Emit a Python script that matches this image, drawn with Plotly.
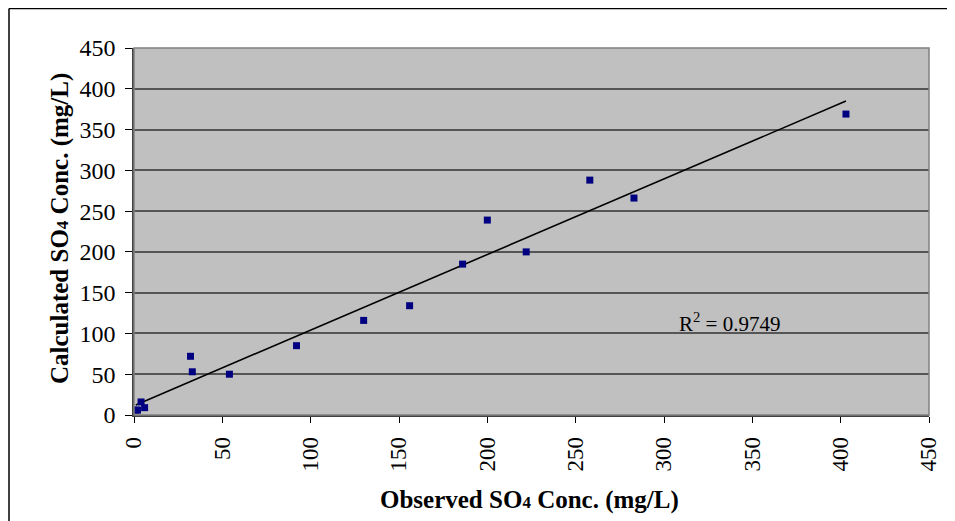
import numpy as np
import plotly.graph_objects as go

observed = [1, 2, 4, 6, 32, 33, 54, 92, 130, 156, 186, 200, 222, 258, 283, 403]
calculated = [6, 6, 16, 9, 72, 53, 50, 85, 116, 134, 185, 239, 200, 288, 266, 369]
x_ticks = [0, 50, 100, 150, 200, 250, 300, 350, 400, 450]
y_ticks = [0, 50, 100, 150, 200, 250, 300, 350, 400, 450]
r2_label = "R<sup>2</sup> = 0.9749"

slope, intercept = np.polyfit(observed, calculated, 1)
xfit = np.array([min(observed), max(observed)])
yfit = slope * xfit + intercept

fig = go.Figure()
fig.add_trace(go.Scatter(x=list(xfit), y=list(yfit), mode="lines",
                         line=dict(color="black", width=1.6), showlegend=False, hoverinfo="skip"))
fig.add_trace(go.Scatter(x=observed, y=calculated, mode="markers",
                         marker=dict(symbol="square", size=7, color="#000080",
                                     line=dict(width=0)), showlegend=False))

font = "Liberation Serif, Times New Roman, serif"
PL, PT, PW, PH = 134, 48, 795, 367  # absolute plot area in page pixels
fig.update_layout(
    width=947, height=513,
    margin=dict(l=126, r=26, t=40, b=106),
    paper_bgcolor="white", plot_bgcolor="#C0C0C0",
    font=dict(family=font, size=24, color="black"),
    xaxis=dict(range=[0, 450], tickvals=x_ticks, ticktext=[str(v) for v in x_ticks],
               tickangle=-90, showgrid=False, zeroline=False,
               showline=True, linecolor="#404040", linewidth=1.5, mirror=False,
               ticks="outside", ticklen=6, tickcolor="black", tickwidth=1,
               ticklabelstandoff=5,
               tickfont=dict(family=font, size=23)),
    yaxis=dict(range=[0, 450], tickvals=y_ticks, ticktext=[str(v) for v in y_ticks],
               showgrid=True, gridcolor="#555555", gridwidth=1.5, zeroline=False,
               showline=True, linecolor="#404040", linewidth=1.5,
               ticks="outside", ticklen=7, tickcolor="black", tickwidth=1,
               ticklabelstandoff=5,
               tickfont=dict(family=font, size=24)),
    shapes=[
        dict(type="rect", xref="paper", yref="paper", x0=0, y0=0, x1=1, y1=1,
             line=dict(color="#808080", width=1.5), fillcolor="rgba(0,0,0,0)", layer="above"),
        dict(type="line", xref="paper", yref="paper", x0=(9 - PL) / PW, x1=(9 - PL) / PW,
             y0=-0.5, y1=(PT + PH - 8.5) / PH, line=dict(color="black", width=1.5)),
        dict(type="line", xref="paper", yref="paper", x0=(9 - PL) / PW, x1=1.1,
             y0=(PT + PH - 8.5) / PH, y1=(PT + PH - 8.5) / PH, line=dict(color="black", width=1.5)),
    ],
    annotations=[
        dict(text=r2_label, x=337, y=114, xref="x", yref="y", showarrow=False,
             xanchor="center", yanchor="middle",
             font=dict(family=font, size=21, color="black")),
        dict(text="<b>Observed SO<span style='font-size:17px'>4</span> Conc. (mg/L)</b>",
             xref="paper", yref="paper", x=(529 - PL) / PW, y=(PT + PH - 500) / PH,
             xanchor="center", yanchor="middle",
             showarrow=False, font=dict(family=font, size=25, color="black")),
        dict(text="<b>Calculated SO<span style='font-size:17px'>4</span> Conc. (mg/L)</b>",
             xref="paper", yref="paper", x=(60 - PL) / PW, y=(PT + PH - 229) / PH,
             xanchor="center", yanchor="middle",
             textangle=-90, showarrow=False, font=dict(family=font, size=25, color="black")),
    ],
)

fig.write_html("out.html")
